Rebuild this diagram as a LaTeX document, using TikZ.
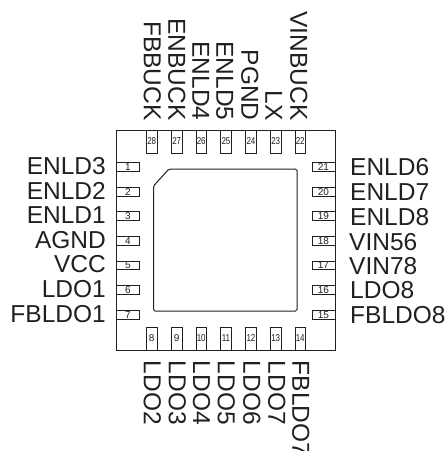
\documentclass[tikz,border=0pt]{standalone}
\usepackage{fontspec}
\setmainfont{Liberation Sans}
\usepackage{tikz}
\usetikzlibrary{positioning}
\definecolor{ink}{HTML}{231F20}
\newcommand{\thinnum}[1]{\scalebox{0.8}[1]{#1}}

\begin{document}
\begin{tikzpicture}[x=1pt,y=-1pt]
        \useasboundingbox (0,0) rectangle (447,451);
        \tikzstyle{every node} = [inner sep = 0pt, text = ink];
        \tikzstyle{sidepin} = [draw = ink, fill = white, line width = 0.7pt, minimum width = 23pt, minimum height = 8.5pt, font = \fontsize{10}{10}\selectfont];
        \tikzstyle{updownpin} = [draw = ink, fill = white, line width = 0.7pt, minimum width = 10.5pt, minimum height = 23pt, font = \fontsize{10}{10}\selectfont];
        \tikzstyle{pinname} = [text height = 17.5pt, text depth = 0pt, font = \fontsize{24.5}{24.5}\selectfont];
        % package and pad
        \draw[ink, line width = 1pt] (116.7,130) rectangle (335.3,350);
        \draw[ink, line width = 1pt, rounded corners = 1.5pt] (169,169) -- (297,169) -- (297,311) -- (153.5,311) -- (153.5,186) -- cycle;
        % left side
        \node[sidepin](p1) at (128,167) {1};
        \node[sidepin](p2) at (128,192) {2};
        \node[sidepin](p3) at (128,216) {3};
        \node[sidepin](p4) at (128,241) {4};
        \node[sidepin](p5) at (128,265.5) {5};
        \node[sidepin](p6) at (128,290) {6};
        \node[sidepin](p7) at (128,315) {7};
        % bottom side
        \node[updownpin](p8) at (151.7,338.5) {8};
        \node[updownpin](p9) at (176.7,338.5) {9};
        \node[updownpin](p10) at (201.2,338.5) {\thinnum{10}};
        \node[updownpin](p11) at (226,338.5) {\thinnum{11}};
        \node[updownpin](p12) at (251,338.5) {\thinnum{12}};
        \node[updownpin](p13) at (275.7,338.5) {\thinnum{13}};
        \node[updownpin](p14) at (300.2,338.5) {\thinnum{14}};
        % right side
        \node[sidepin](p15) at (323.5,315) {15};
        \node[sidepin](p16) at (323.5,290) {16};
        \node[sidepin](p17) at (323.5,265.5) {17};
        \node[sidepin](p18) at (323.5,241) {18};
        \node[sidepin](p19) at (323.5,216) {19};
        \node[sidepin](p20) at (323.5,192) {20};
        \node[sidepin](p21) at (323.5,167) {21};
        % top side
        \node[updownpin](p22) at (300.2,141.5) {\thinnum{22}};
        \node[updownpin](p23) at (275.7,141.5) {\thinnum{23}};
        \node[updownpin](p24) at (251,141.5) {\thinnum{24}};
        \node[updownpin](p25) at (226,141.5) {\thinnum{25}};
        \node[updownpin](p26) at (201.2,141.5) {\thinnum{26}};
        \node[updownpin](p27) at (176.7,141.5) {\thinnum{27}};
        \node[updownpin](p28) at (151.7,141.5) {\thinnum{28}};
        % names
        \node[pinname, anchor = east](enldthree) at (106,166) {ENLD3};
        \node[pinname, anchor = east](enldtwo) at (106,190.5) {ENLD2};
        \node[pinname, anchor = east](enldone) at (106,215) {ENLD1};
        \node[pinname, anchor = east](agnd) at (106,239.5) {AGND};
        \node[pinname, anchor = east](vcc) at (106,264) {VCC};
        \node[pinname, anchor = east](ldoone) at (106,289) {LDO1};
        \node[pinname, anchor = east](fbldoone) at (106,314) {FBLDO1};
        \node[pinname, anchor = west](enldsix) at (350,166.7) {ENLD6};
        \node[pinname, anchor = west](enldseven) at (350,191.7) {ENLD7};
        \node[pinname, anchor = west](enldeight) at (350,216.7) {ENLD8};
        \node[pinname, anchor = west](vinfivesix) at (349,241.7) {VIN56};
        \node[pinname, anchor = west](vinseveneight) at (349,266) {VIN78};
        \node[pinname, anchor = west](ldoeight) at (350,290) {LDO8};
        \node[pinname, anchor = west](fbldoeight) at (350,315) {FBLDO8};
        \node[pinname, anchor = east, rotate = -90](fbbuck) at (152.5,120.7) {FBBUCK};
        \node[pinname, anchor = east, rotate = -90](enbuck) at (177,120.7) {ENBUCK};
        \node[pinname, anchor = east, rotate = -90](enldfour) at (201,120.7) {ENLD4};
        \node[pinname, anchor = east, rotate = -90](enldfive) at (225,120.7) {ENLD5};
        \node[pinname, anchor = east, rotate = -90](pgnd) at (250,120.7) {PGND};
        \node[pinname, anchor = east, rotate = -90](lx) at (274,120.7) {LX};
        \node[pinname, anchor = east, rotate = -90](vinbuck) at (299,120.7) {VINBUCK};
        \node[pinname, anchor = west, rotate = -90](ldotwo) at (152.5,360.7) {LDO2};
        \node[pinname, anchor = west, rotate = -90](ldothree) at (177.5,360.7) {LDO3};
        \node[pinname, anchor = west, rotate = -90](ldofour) at (202,360.7) {LDO4};
        \node[pinname, anchor = west, rotate = -90](ldofive) at (226.5,360.7) {LDO5};
        \node[pinname, anchor = west, rotate = -90](ldosix) at (252,360.7) {LDO6};
        \node[pinname, anchor = west, rotate = -90](ldoseven) at (277,360.7) {LDO7};
        \node[pinname, anchor = west, rotate = -90](fbldoseven) at (301,360.7) {FBLDO7};
\end{tikzpicture}
\end{document}
